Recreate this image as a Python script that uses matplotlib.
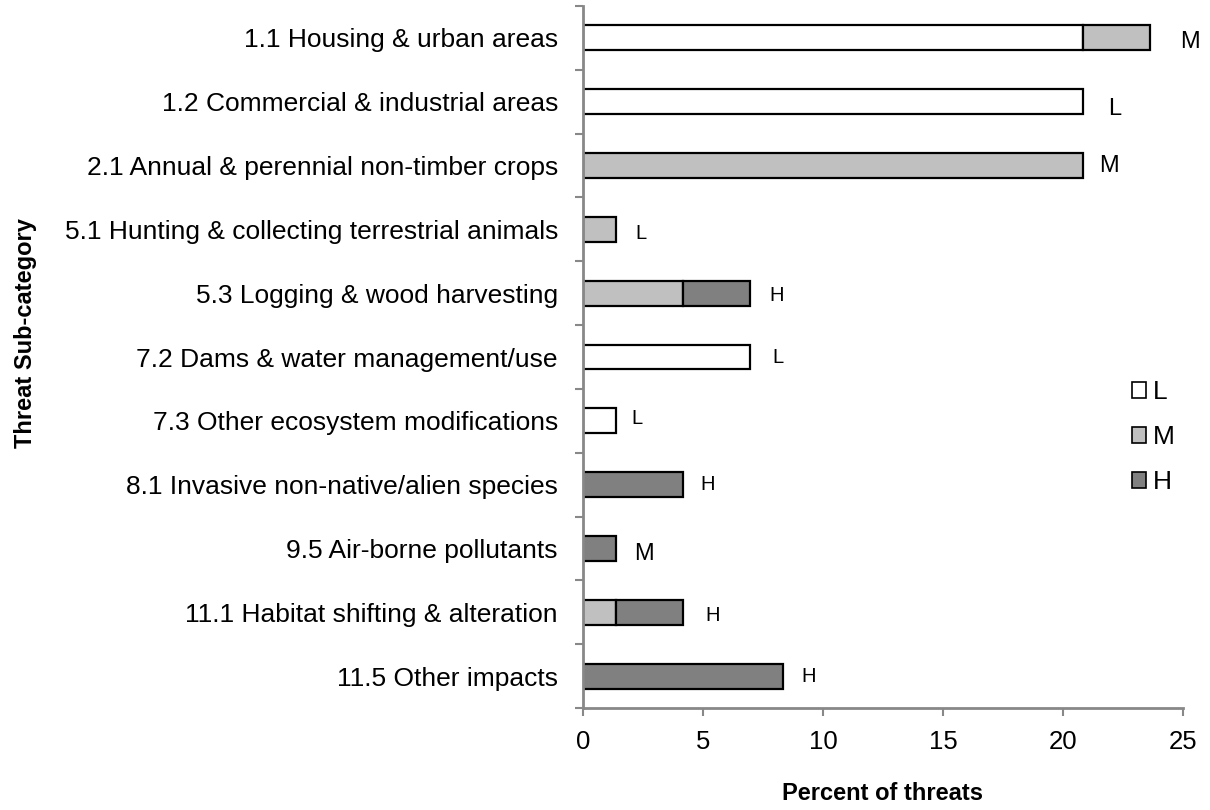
import matplotlib

matplotlib.use("Agg")
import matplotlib.pyplot as plt
from matplotlib.patches import Patch
import numpy as np

plt.rcParams["font.family"] = ["Liberation Sans", "DejaVu Sans"]

categories = [
    "1.1 Housing & urban areas",
    "1.2 Commercial & industrial areas",
    "2.1 Annual & perennial non-timber crops",
    "5.1 Hunting & collecting terrestrial animals",
    "5.3 Logging & wood harvesting",
    "7.2 Dams & water management/use",
    "7.3 Other ecosystem modifications",
    "8.1 Invasive non-native/alien species",
    "9.5 Air-borne pollutants",
    "11.1 Habitat shifting & alteration",
    "11.5 Other impacts",
]
low = [20.83, 20.83, 0, 0, 0, 6.94, 1.39, 0, 0, 0, 0]
medium = [2.78, 0, 20.83, 1.39, 4.17, 0, 0, 0, 0, 1.39, 0]
high = [0, 0, 0, 0, 2.78, 0, 0, 4.17, 1.39, 2.78, 8.33]

# overall severity written next to each bar
severity = ["M", "L", "M", "L", "H", "L", "L", "H", "M", "H", "H"]
big_label = [True, True, True, False, False, False, False, False, True, False, False]
label_gap = [1.68, 1.34, 1.08, 1.03, 1.13, 1.18, 0.86, 1.04, 1.15, 1.25, 1.09]
label_dy = [0.06, 0.11, 0.0, 0.06, 0.03, 0.0, -0.03, 0.0, 0.08, 0.05, 0.0]

colors = {"L": "#ffffff", "M": "#c0c0c0", "H": "#808080"}
axis_grey = "#888888"

fig = plt.figure(figsize=(12.1, 8.1), dpi=100)
ax = fig.add_axes([0.4818, 0.1259, 0.4959, 0.8667])

y = np.arange(len(categories))
low = np.array(low)
medium = np.array(medium)
high = np.array(high)
h = 0.39
kw = dict(height=h, edgecolor="black", linewidth=1.6)
for vals, left, key in [(low, 0, "L"), (medium, low, "M"), (high, low + medium, "H")]:
    mask = vals > 0
    ax.barh(y[mask], vals[mask], left=np.broadcast_to(left, vals.shape)[mask],
            color=colors[key], **kw)

totals = low + medium + high
for i, tot in enumerate(totals):
    ax.text(tot + label_gap[i], y[i] + label_dy[i], severity[i],
            ha="center", va="center", fontsize=17 if big_label[i] else 14.5,
            clip_on=False)

ax.set_ylim(len(categories) - 0.5, -0.5)
ax.set_xlim(0, 25)
ax.set_xticks([0, 5, 10, 15, 20, 25])
ax.set_yticks(y)
ax.set_yticklabels(categories)
ax.set_yticks(np.arange(-0.5, len(categories), 1.0), minor=True)
ax.tick_params(axis="y", which="major", length=0, pad=18, labelsize=19)
ax.tick_params(axis="y", which="minor", length=6, width=1.5, color=axis_grey, direction="out")
ax.tick_params(axis="x", which="major", length=6, width=1.5, color=axis_grey,
               direction="out", labelsize=18.5, pad=10)

for side in ["top", "right"]:
    ax.spines[side].set_visible(False)
for side in ["left", "bottom"]:
    ax.spines[side].set_color(axis_grey)
    ax.spines[side].set_linewidth(2)

ax.set_xlabel("Percent of threats", fontsize=17, fontweight="bold", labelpad=20)
fig.text(0.021, 0.589, "Threat Sub-category", rotation=90, ha="center", va="center",
         fontsize=17, fontweight="bold")

handles = [Patch(facecolor=colors[k], edgecolor="black", linewidth=1.2, label=k)
           for k in ["L", "M", "H"]]
ax.legend(handles=handles, loc="center left", bbox_to_anchor=(0.875, 0.386),
          frameon=False, fontsize=19, handlelength=0.55, handleheight=0.55,
          handletextpad=0.25, labelspacing=0.8)

fig.savefig("out.png", dpi=100)
